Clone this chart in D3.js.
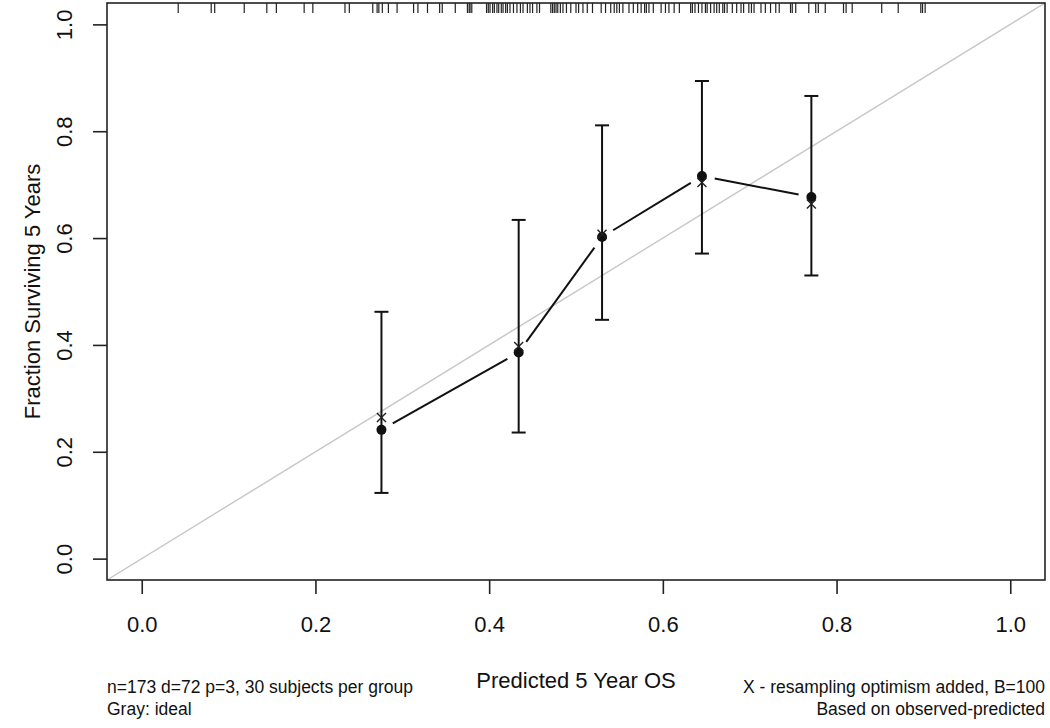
<!DOCTYPE html>
<html>
<head>
<meta charset="utf-8">
<script src="https://cdn.jsdelivr.net/npm/d3@7"></script>
<style>
  html, body { margin: 0; padding: 0; background: #fff; }
  svg { display: block; font-family: "Liberation Sans", Arial, Helvetica, sans-serif; }
</style>
</head>
<body>
<svg id="chart" width="1050" height="728"></svg>
<script>
// ---- data ----
const predicted = [0.276, 0.434, 0.530, 0.645, 0.771];
const observed  = [0.241, 0.386, 0.602, 0.716, 0.677];
const corrected = [0.264, 0.397, 0.607, 0.704, 0.664];
const lowerCI   = [0.123, 0.236, 0.447, 0.571, 0.530];
const upperCI   = [0.462, 0.634, 0.811, 0.894, 0.866];
const xTicks = [0, 0.2, 0.4, 0.6, 0.8, 1.0];
const yTicks = [0, 0.2, 0.4, 0.6, 0.8, 1.0];
const tickLabels = ["0.0", "0.2", "0.4", "0.6", "0.8", "1.0"];
const rugValues = [
  0.042, 0.080, 0.084, 0.118, 0.144, 0.155, 0.187, 0.197, 0.234, 0.239,
  0.266, 0.271, 0.273, 0.277, 0.284, 0.294, 0.313, 0.318, 0.329, 0.343,
  0.346, 0.361, 0.375, 0.377, 0.378, 0.380, 0.397, 0.399, 0.401, 0.404,
  0.406, 0.409, 0.411, 0.414, 0.416, 0.419, 0.421, 0.424, 0.428, 0.432,
  0.436, 0.439, 0.444, 0.447, 0.450, 0.455, 0.458, 0.471, 0.473, 0.475,
  0.477, 0.479, 0.482, 0.485, 0.489, 0.494, 0.500, 0.503, 0.508, 0.513,
  0.519, 0.529, 0.534, 0.540, 0.544, 0.547, 0.550, 0.554, 0.561, 0.566,
  0.571, 0.575, 0.579, 0.581, 0.584, 0.589, 0.598, 0.603, 0.607, 0.613,
  0.619, 0.632, 0.634, 0.637, 0.641, 0.645, 0.649, 0.651, 0.655, 0.659,
  0.662, 0.665, 0.669, 0.671, 0.674, 0.680, 0.685, 0.690, 0.693, 0.699,
  0.702, 0.705, 0.713, 0.718, 0.724, 0.730, 0.734, 0.747, 0.749, 0.753,
  0.768, 0.776, 0.779, 0.787, 0.808, 0.811, 0.818, 0.852, 0.871, 0.897,
  0.899, 0.902
];
const xTitle = "Predicted 5 Year OS";
const yTitle = "Fraction Surviving 5 Years";
const noteLeft = ["n=173 d=72 p=3, 30 subjects per group", "Gray: ideal"];
const noteRight = ["X - resampling optimism added, B=100", "Based on observed-predicted"];

// ---- layout ----
const svg = d3.select("#chart");
const L = 107, R = 1045, T = 3, B = 580;
const x = d3.scaleLinear().domain([-0.04, 1.04]).range([L, R]);
const y = d3.scaleLinear().domain([-0.04, 1.04]).range([B, T]);

const clipId = "plotclip";
svg.append("clipPath").attr("id", clipId)
  .append("rect").attr("x", L).attr("y", T).attr("width", R - L).attr("height", B - T);

const plot = svg.append("g").attr("clip-path", `url(#${clipId})`);

// ideal line
plot.append("line")
  .attr("x1", x(-0.04)).attr("y1", y(-0.04))
  .attr("x2", x(1.04)).attr("y2", y(1.04))
  .attr("stroke", "#c8c8c8").attr("stroke-width", 1.4);

// rug at top
svg.append("g").selectAll("line").data(rugValues).join("line")
  .attr("x1", d => x(d)).attr("x2", d => x(d))
  .attr("y1", T).attr("y2", T + 10)
  .attr("stroke", "#222").attr("stroke-width", 1.2);

// error bars
const capW = 7;
const eb = svg.append("g").attr("stroke", "#111").attr("stroke-width", 2).attr("fill", "none");
predicted.forEach((p, i) => {
  eb.append("line").attr("x1", x(p)).attr("x2", x(p)).attr("y1", y(lowerCI[i])).attr("y2", y(upperCI[i]));
  eb.append("line").attr("x1", x(p) - capW).attr("x2", x(p) + capW).attr("y1", y(lowerCI[i])).attr("y2", y(lowerCI[i]));
  eb.append("line").attr("x1", x(p) - capW).attr("x2", x(p) + capW).attr("y1", y(upperCI[i])).attr("y2", y(upperCI[i]));
});

// connecting line (type "b": segments with gaps at points)
const gap = 13;
const seg = svg.append("g").attr("stroke", "#111").attr("stroke-width", 2);
for (let i = 0; i < predicted.length - 1; i++) {
  const x1 = x(predicted[i]), y1 = y(observed[i]);
  const x2 = x(predicted[i + 1]), y2 = y(observed[i + 1]);
  const len = Math.hypot(x2 - x1, y2 - y1);
  const ux = (x2 - x1) / len, uy = (y2 - y1) / len;
  seg.append("line")
    .attr("x1", x1 + ux * gap).attr("y1", y1 + uy * gap)
    .attr("x2", x2 - ux * gap).attr("y2", y2 - uy * gap);
}

// observed dots
svg.append("g").selectAll("circle").data(predicted).join("circle")
  .attr("cx", d => x(d)).attr("cy", (d, i) => y(observed[i]))
  .attr("r", 5).attr("fill", "#111");

// corrected X marks
const xs = 4.5;
svg.append("g").attr("stroke", "#222").attr("stroke-width", 1.4)
  .selectAll("path").data(predicted).join("path")
  .attr("d", (d, i) => {
    const cx = x(d), cy = y(corrected[i]);
    return `M${cx - xs},${cy - xs}L${cx + xs},${cy + xs}M${cx - xs},${cy + xs}L${cx + xs},${cy - xs}`;
  });

// box
svg.append("rect").attr("x", L).attr("y", T).attr("width", R - L).attr("height", B - T)
  .attr("fill", "none").attr("stroke", "#222").attr("stroke-width", 1.6);

// x axis
const xAxis = d3.axisBottom(x).tickValues(xTicks)
  .tickFormat((d, i) => tickLabels[i]).tickSize(14).tickPadding(22);
const gx = svg.append("g").attr("transform", `translate(0,${B})`).call(xAxis);
gx.select(".domain").remove();
gx.selectAll(".tick line").attr("stroke", "#222").attr("stroke-width", 1.6);
gx.selectAll(".tick text").attr("font-size", 22).attr("fill", "#111")
  .attr("font-family", "Liberation Sans, Arial, sans-serif");

// y axis
const yAxis = d3.axisLeft(y).tickValues(yTicks)
  .tickFormat((d, i) => tickLabels[i]).tickSize(14);
const gy = svg.append("g").attr("transform", `translate(${L},0)`).call(yAxis);
gy.select(".domain").remove();
gy.selectAll(".tick line").attr("stroke", "#222").attr("stroke-width", 1.6);
gy.selectAll(".tick text")
  .attr("x", null).attr("dy", null)
  .attr("transform", "translate(-35,0) rotate(-90)")
  .attr("text-anchor", "middle")
  .attr("font-size", 22).attr("fill", "#111")
  .attr("font-family", "Liberation Sans, Arial, sans-serif");

// axis titles
svg.append("text").attr("x", (L + R) / 2).attr("y", 688)
  .attr("text-anchor", "middle").attr("font-size", 22).attr("fill", "#111").text(xTitle);
svg.append("text").attr("transform", `translate(40,${(T + B) / 2}) rotate(-90)`)
  .attr("text-anchor", "middle").attr("font-size", 22).attr("fill", "#111").text(yTitle);

// notes
noteLeft.forEach((t, i) => {
  svg.append("text").attr("x", L).attr("y", 693 + i * 22)
    .attr("font-size", 17.5).attr("fill", "#111").text(t);
});
noteRight.forEach((t, i) => {
  svg.append("text").attr("x", R).attr("y", 693 + i * 22).attr("text-anchor", "end")
    .attr("font-size", 17.5).attr("fill", "#111").text(t);
});
</script>
</body>
</html>
